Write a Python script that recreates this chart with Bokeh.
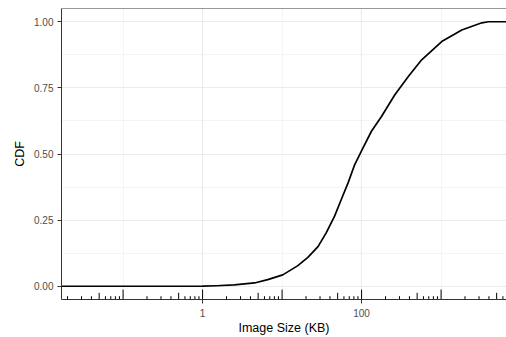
from bokeh.plotting import figure
from bokeh.models import Range1d, FixedTicker, NumeralTickFormatter, Span, ColumnDataSource
from bokeh.embed import file_html
from bokeh.resources import INLINE

# ---- data ----
image_size_kb = [0.0168, 0.1, 0.5, 1.0, 1.5, 2.5, 4.5, 6.6, 10.2, 15.8, 21.1, 28.3, 36.0, 45.9,
                 55.7, 67.6, 82.0, 101.6, 133.0, 178.0, 262.0, 387.0, 570.0, 1018.0, 1822.0,
                 3258.0, 3955.0, 6650.0]
cdf = [0.0, 0.0, 0.0, 0.0005, 0.002, 0.005, 0.0125, 0.025, 0.043, 0.078, 0.109, 0.15, 0.203, 0.266,
       0.329, 0.391, 0.46, 0.517, 0.586, 0.642, 0.724, 0.793, 0.856, 0.925, 0.969,
       0.996, 1.0, 1.0]

x_ticks = [1, 100]
x_tick_labels = ["1", "100"]
x_minor = [0.1, 10, 1000]
y_ticks = [0.0, 0.25, 0.5, 0.75, 1.0]
y_minor = [0.125, 0.375, 0.625, 0.875]
x_start, x_end = 0.0168, 6650.0
y_start, y_end = -0.05, 1.05

FONT = "Liberation Sans"
DARK = "#333333"
TXT = "#4D4D4D"
GRID = "#EBEBEB"

W, H = 506, 337
BL, BR, BT, BB = 61, 0, 8, 37

p = figure(width=W, height=H, x_axis_type="log", output_backend="svg", toolbar_location=None,
           x_range=Range1d(x_start, x_end), y_range=Range1d(y_start, y_end),
           min_border_left=BL, min_border_right=BR, min_border_top=BT, min_border_bottom=BB)
p.outline_line_color = None
p.background_fill_color = "white"
p.border_fill_color = "white"

# grids
p.xaxis.ticker = FixedTicker(ticks=x_ticks, minor_ticks=x_minor)
p.yaxis.ticker = FixedTicker(ticks=y_ticks, minor_ticks=y_minor)
for g in (p.xgrid, p.ygrid):
    g.grid_line_color = GRID
    g.grid_line_width = 1.1
    g.minor_grid_line_color = GRID
    g.minor_grid_line_width = 0.55

# axes
p.xaxis.major_label_overrides = {t: l for t, l in zip(x_ticks, x_tick_labels)}
p.yaxis.formatter = NumeralTickFormatter(format="0.00")
for ax in (p.xaxis, p.yaxis):
    ax.axis_line_color = DARK
    ax.axis_line_width = 1
    ax.major_tick_line_color = DARK
    ax.major_tick_out = 4
    ax.major_tick_in = 0
    ax.minor_tick_line_color = None
    ax.major_label_text_font = FONT
    ax.major_label_text_font_size = "10px"
    ax.major_label_text_color = TXT
    ax.axis_label_text_font = FONT
    ax.axis_label_text_font_size = "12.5px"
    ax.axis_label_text_font_style = "normal"
    ax.axis_label_text_color = "black"
p.xaxis.major_label_standoff = 5
p.yaxis.major_label_standoff = 4
p.xaxis.axis_label = "Image Size (KB)"
p.yaxis.axis_label = "CDF"
p.xaxis.axis_label_standoff = 1
p.yaxis.axis_label_standoff = 4

# top border
p.add_layout(Span(location=y_end, dimension="width", line_color=DARK, line_width=1))

# log ticks (annotation_logticks style) at the bottom of the panel
frame_h = H - BT - BB
px_per_unit = frame_h / (y_end - y_start)
tx, ty0, ty1 = [], [], []
for d in range(-2, 4):
    for k in range(1, 10):
        v = k * 10.0 ** d
        if x_start <= v <= x_end:
            L = 10.0 if k == 1 else (6.7 if k == 5 else 3.3)
            tx.append(v)
            ty0.append(y_start)
            ty1.append(y_start + L / px_per_unit)
p.segment(x0=tx, y0=ty0, x1=tx, y1=ty1, line_color="black", line_width=1)

# CDF line
src = ColumnDataSource(dict(x=image_size_kb, y=cdf))
p.line("x", "y", source=src, line_color="black", line_width=1.7, line_join="round")

open("out.html", "w").write(file_html(p, INLINE))
